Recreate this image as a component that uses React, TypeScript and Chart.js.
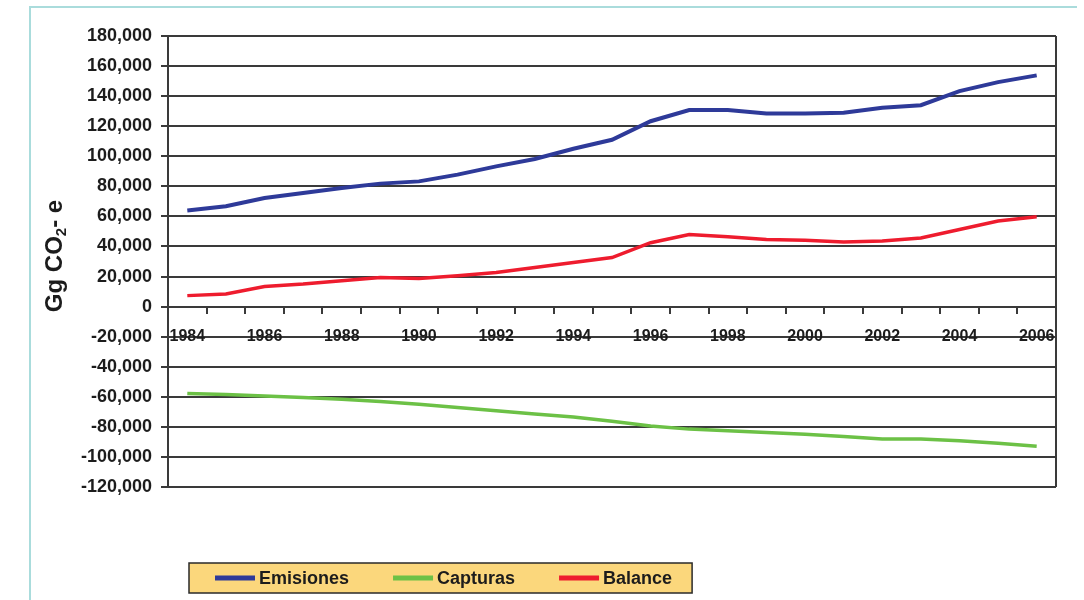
import React, { useEffect, useRef } from 'react';
import { Chart, registerables } from 'chart.js';

Chart.register(...registerables);

const years = ['1984', '1985', '1986', '1987', '1988', '1989', '1990', '1991', '1992', '1993', '1994', '1995', '1996', '1997', '1998', '1999', '2000', '2001', '2002', '2003', '2004', '2005', '2006'];
const emisiones = [64000, 66700, 72200, 75600, 78900, 81800, 83300, 87800, 93300, 98200, 105000, 111000, 123300, 130700, 130700, 128400, 128400, 128900, 132200, 134000, 143300, 149300, 153800];
const capturas = [-57800, -58500, -59400, -60400, -61700, -63200, -65000, -67100, -69300, -71500, -73400, -76200, -79400, -81500, -82600, -83800, -84900, -86400, -88100, -88100, -89200, -90900, -92900];
const balance = [7300, 8400, 13400, 15000, 17200, 19400, 18700, 20500, 22700, 26000, 29300, 32600, 42500, 48000, 46500, 44700, 44100, 43000, 43600, 45600, 51300, 56900, 59700];
const seriesLabels = ['Emisiones', 'Capturas', 'Balance'];
const seriesColors = ['#2e3a99', '#6cc146', '#ee1c2e'];
const yMin = -120000;
const yMax = 180000;
const yStep = 20000;
const titleParts = ['Gg CO', '2', '- e'];

const FONT = '"Liberation Sans", Arial, sans-serif';
const DARK = '#3a3a3a';
const TEXT = '#1c1c1c';

const decor = {
  id: 'decor',
  beforeDraw(chart: any) {
    const ctx = chart.ctx;
    ctx.save();
    ctx.strokeStyle = '#aadcdc';
    ctx.lineWidth = 2;
    ctx.beginPath();
    ctx.moveTo(30, 600);
    ctx.lineTo(30, 7);
    ctx.lineTo(1077, 7);
    ctx.stroke();
    ctx.restore();
  },
  afterDraw(chart: any) {
    const ctx = chart.ctx;
    const ca = chart.chartArea;
    ctx.save();
    // right border of plot area
    ctx.strokeStyle = DARK;
    ctx.lineWidth = 2;
    ctx.beginPath();
    ctx.moveTo(ca.right, ca.top);
    ctx.lineTo(ca.right, ca.bottom);
    ctx.stroke();

    // y axis title with subscript
    ctx.fillStyle = TEXT;
    ctx.translate(55, 256);
    ctx.rotate(-Math.PI / 2);
    ctx.textBaseline = 'middle';
    ctx.textAlign = 'left';
    const big = 'bold 24px ' + FONT;
    const small = 'bold 15px ' + FONT;
    ctx.font = big;
    const w0 = ctx.measureText(titleParts[0]).width;
    const w2 = ctx.measureText(titleParts[2]).width;
    ctx.font = small;
    const w1 = ctx.measureText(titleParts[1]).width;
    let x = -(w0 + w1 + w2) / 2;
    ctx.font = big;
    ctx.fillText(titleParts[0], x, 0);
    x += w0;
    ctx.font = small;
    ctx.fillText(titleParts[1], x, 7);
    x += w1;
    ctx.font = big;
    ctx.fillText(titleParts[2], x, 0);
    ctx.restore();

    // legend
    ctx.save();
    ctx.font = 'bold 18px ' + FONT;
    const boxLeft = 189;
    const boxTop = 563;
    const boxH = 30;
    const swatch = 40;
    let total = 26;
    const widths = chart.data.datasets.map((d: any) => ctx.measureText(d.label).width);
    widths.forEach((w: number, i: number) => {
      total += swatch + 4 + w + (i < widths.length - 1 ? 44 : 20);
    });
    ctx.fillStyle = '#fbd77c';
    ctx.fillRect(boxLeft, boxTop, total, boxH);
    ctx.strokeStyle = '#2a2a2a';
    ctx.lineWidth = 1.5;
    ctx.strokeRect(boxLeft, boxTop, total, boxH);
    let lx = boxLeft + 26;
    const cy = boxTop + boxH / 2;
    chart.data.datasets.forEach((d: any, i: number) => {
      ctx.strokeStyle = d.borderColor;
      ctx.lineWidth = 5;
      ctx.beginPath();
      ctx.moveTo(lx, cy);
      ctx.lineTo(lx + swatch, cy);
      ctx.stroke();
      lx += swatch + 4;
      ctx.fillStyle = TEXT;
      ctx.textBaseline = 'middle';
      ctx.textAlign = 'left';
      ctx.fillText(d.label, lx, cy + 1);
      lx += widths[i] + 44;
    });
    ctx.restore();
  },
};

export default function App() {
  const ref = useRef<HTMLCanvasElement | null>(null);
  useEffect(() => {
    if (!ref.current) return;
    const chart = new Chart(ref.current, {
      type: 'line',
      data: {
        labels: years,
        datasets: [
          { label: seriesLabels[0], data: emisiones, borderColor: seriesColors[0], backgroundColor: seriesColors[0], borderWidth: 4, pointRadius: 0, tension: 0 },
          { label: seriesLabels[1], data: capturas, borderColor: seriesColors[1], backgroundColor: seriesColors[1], borderWidth: 3.5, pointRadius: 0, tension: 0 },
          { label: seriesLabels[2], data: balance, borderColor: seriesColors[2], backgroundColor: seriesColors[2], borderWidth: 3.5, pointRadius: 0, tension: 0 },
        ],
      },
      options: {
        responsive: false,
        animation: false,
        devicePixelRatio: 1,
        layout: { padding: { left: 0, top: 36, right: 28, bottom: 113 } },
        plugins: { legend: { display: false }, tooltip: { enabled: false } },
        scales: {
          x: {
            type: 'category',
            position: { y: 0 } as any,
            offset: true,
            grid: { offset: true, drawOnChartArea: false, drawTicks: true, tickLength: 6, color: DARK, lineWidth: 2 },
            border: { display: true, color: DARK, width: 2 },
            ticks: {
              autoSkip: false,
              maxRotation: 0,
              padding: 14,
              color: TEXT,
              font: { family: FONT, size: 16, weight: 'bold' },
              callback: (_v: any, i: number) => (i % 2 === 0 ? years[i] : ''),
            },
          },
          y: {
            min: yMin,
            max: yMax,
            grid: { color: DARK, lineWidth: 2, tickLength: 7 },
            border: { color: DARK, width: 2 },
            ticks: {
              stepSize: yStep,
              padding: 9,
              color: TEXT,
              font: { family: FONT, size: 18, weight: 'bold' },
              callback: (v: any) => Number(v).toLocaleString('en-US'),
            },
            afterFit: (s: any) => { s.width = 168; },
          },
        },
      },
      plugins: [decor],
    });
    return () => chart.destroy();
  }, []);
  return (
    <div style={{ position: 'fixed', left: 0, top: 0, width: 1084, height: 600, background: '#fff' }}>
      <canvas ref={ref} width={1084} height={600} style={{ display: 'block' }} />
    </div>
  );
}
